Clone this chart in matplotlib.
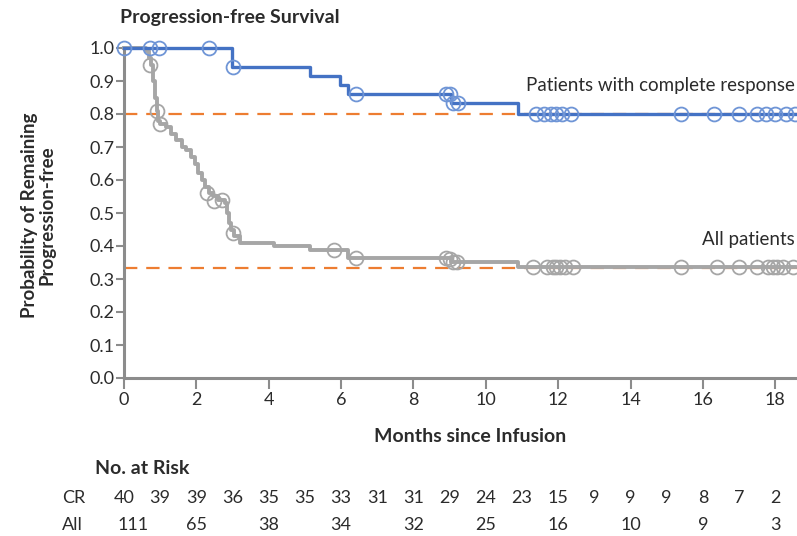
import matplotlib.pyplot as plt
import matplotlib.transforms as mtransforms
import numpy as np

plt.rcParams['font.family'] = ['Lato', 'DejaVu Sans']

# Kaplan-Meier steps
cr_t = [0, 2.98, 5.14, 5.97, 6.19, 9.05, 10.9, 18.55]
cr_s = [1.0, 0.942, 0.914, 0.888, 0.861, 0.833, 0.80, 0.80]
cr_cens_t = [0.0, 0.72, 0.97, 2.35, 3.0, 6.4, 8.9, 9.0, 9.1, 9.22,
             11.4, 11.6, 11.8, 11.95, 12.1, 12.35, 15.4, 16.3, 17.0,
             17.5, 17.75, 18.0, 18.3, 18.55]
cr_cens_s = [1.0, 1.0, 1.0, 1.0, 0.942, 0.861, 0.861, 0.861, 0.833, 0.833,
             0.80, 0.80, 0.80, 0.80, 0.80, 0.80, 0.80, 0.80, 0.80,
             0.80, 0.80, 0.80, 0.80, 0.80]

all_t = [0, 0.6, 0.7, 0.75, 0.8, 0.85, 0.9, 0.95, 1.0, 1.15, 1.3, 1.45,
         1.6, 1.7, 1.85, 1.95, 2.05, 2.15, 2.25, 2.35, 2.45, 2.6, 2.8,
         2.85, 2.9, 2.95, 3.05, 3.2, 4.15, 5.15, 6.2, 9.05, 10.9, 18.55]
all_s = [1.0, 0.99, 0.97, 0.95, 0.90, 0.85, 0.81, 0.78, 0.77, 0.76, 0.74,
         0.72, 0.70, 0.69, 0.67, 0.65, 0.62, 0.60, 0.58, 0.56, 0.55, 0.54,
         0.53, 0.50, 0.47, 0.45, 0.43, 0.41, 0.40, 0.388, 0.363, 0.352,
         0.335, 0.335]
all_cens_t = [0.72, 0.92, 1.0, 2.3, 2.5, 2.7, 3.0, 5.8, 6.4, 8.9, 9.0,
              9.1, 9.2, 11.3, 11.7, 11.85, 11.95, 12.05, 12.2, 12.4, 15.4,
              16.4, 17.0, 17.5, 17.8, 17.95, 18.05, 18.2, 18.5]
all_cens_s = [0.95, 0.81, 0.77, 0.56, 0.535, 0.54, 0.44, 0.388, 0.363,
              0.363, 0.36, 0.352, 0.352, 0.335, 0.335, 0.335, 0.335, 0.335,
              0.335, 0.335, 0.335, 0.335, 0.335, 0.335, 0.335, 0.335, 0.335,
              0.335, 0.335]

ref_levels = [0.80, 1 / 3]

risk_cr_months = list(range(0, 19))
risk_cr = [40, 39, 39, 36, 35, 35, 33, 31, 31, 29, 24, 23, 15, 9, 9, 9, 8, 7, 2]
risk_all_months = list(range(0, 19, 2))
risk_all = [111, 65, 38, 34, 32, 25, 16, 10, 9, 3]

W, H = 797, 536
fig = plt.figure(figsize=(W / 100, H / 100), dpi=100)
ax = fig.add_axes([124 / W, 1 - 378 / H, 1 - 124 / W, (378 - 48) / H])

blue = '#4472c4'
blue_c = '#6f95d6'
gray = '#a6a6a6'
orange = '#ed7d31'
spine = '#8c8c8c'
txt = '#2b2b2b'

for lv in ref_levels:
    ax.axhline(lv, color=orange, lw=1.6, ls=(0, (6, 4)), zorder=1)

ax.step(all_t, all_s, where='post', color=gray, lw=2.8, zorder=2, clip_on=False)
ax.plot(all_cens_t, all_cens_s, 'o', ms=10, mfc='none', mec=gray, mew=1.3,
        zorder=3, clip_on=False)
ax.step(cr_t, cr_s, where='post', color=blue, lw=2.4, zorder=4, clip_on=False)
ax.plot(cr_cens_t, cr_cens_s, 'o', ms=10, mfc='none', mec=blue_c, mew=1.3,
        zorder=5, clip_on=False)

ax.set_xlim(0, 18.6)
ax.set_ylim(0, 1.0)
ax.set_xticks(range(0, 19, 2))
ax.set_yticks(np.arange(0, 1.01, 0.1))
ax.set_yticklabels(['%.1f' % v for v in np.arange(0, 1.01, 0.1)])
for s in ['top', 'right']:
    ax.spines[s].set_visible(False)
for s in ['left', 'bottom']:
    ax.spines[s].set_color(spine)
    ax.spines[s].set_linewidth(2.2)
ax.tick_params(axis='y', length=6, width=1.5, color=spine, labelsize=13,
               labelcolor=txt, pad=1)
ax.tick_params(axis='x', length=8, width=1.5, color=spine, labelsize=13,
               labelcolor=txt, pad=2)

ax.text(18.55, 0.86, 'Patients with complete response', ha='right',
        va='bottom', fontsize=13.5, color=txt)
ax.text(18.55, 0.395, 'All patients', ha='right', va='bottom',
        fontsize=13.5, color=txt)

fig.text(120 / W, 1 - 17 / H, 'Progression-free Survival', ha='left',
         va='center', fontsize=14, fontweight='bold', color=txt)
fig.text(38 / W, 1 - 215 / H, 'Probability of Remaining\nProgression-free',
         rotation=90, ha='center', va='center', fontsize=13.5,
         fontweight='bold', color=txt, linespacing=1.05)
fig.text(470 / W, 1 - 436 / H, 'Months since Infusion', ha='center',
         va='center', fontsize=14, fontweight='bold', color=txt)

# number at risk table
fig.text(95 / W, 1 - 468 / H, 'No. at Risk', ha='left', va='center',
         fontsize=14, fontweight='bold', color=txt)
fig.text(62 / W, 1 - 498 / H, 'CR', ha='left', va='center', fontsize=13,
         color=txt)
fig.text(62 / W, 1 - 525 / H, 'All', ha='left', va='center', fontsize=13,
         color=txt)
trans = mtransforms.blended_transform_factory(ax.transData, fig.transFigure)
for m, n in zip(risk_cr_months, risk_cr):
    ax.text(m, 1 - 498 / H, str(n), transform=trans, ha='center',
            va='center', fontsize=13, color=txt)
for m, n in zip(risk_all_months, risk_all):
    ax.text(m + 0.25 if m == 0 else m, 1 - 525 / H, str(n), transform=trans,
            ha='center', va='center', fontsize=13, color=txt)

fig.savefig('out.png', dpi=100)
